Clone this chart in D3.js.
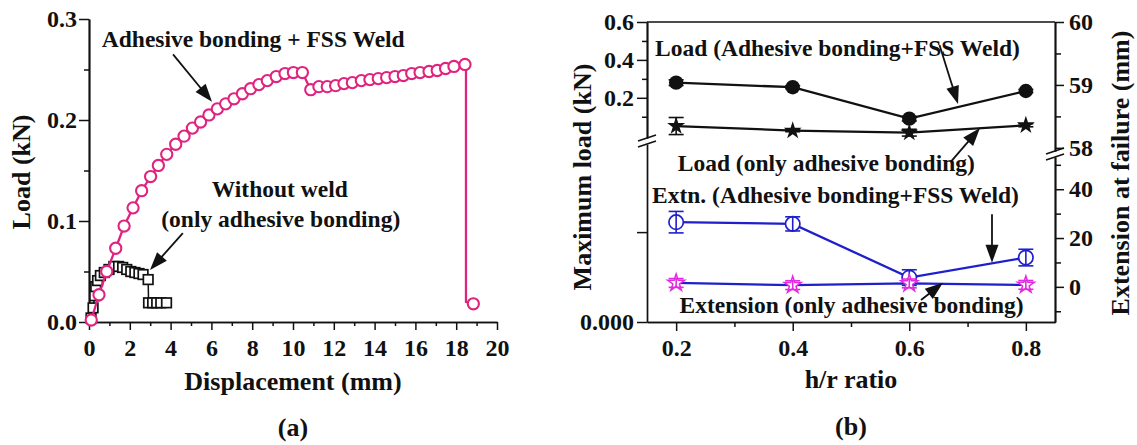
<!DOCTYPE html>
<html>
<head>
<meta charset="utf-8">
<script src="https://cdn.jsdelivr.net/npm/d3@7"></script>
<style>
  html, body { margin: 0; padding: 0; background: #fff; }
  svg { display: block; }
  text { font-family: "Liberation Serif", "Times New Roman", Times, serif; font-weight: bold; fill: #111; }
  .tick text { font-size: 24px; }
  .title { font-size: 26px; }
  .note { font-size: 23.5px; }
</style>
</head>
<body>
<svg id="fig" width="1137" height="445"></svg>
<script>
// ---------- Panel (a): load–displacement curves ----------
const weldDisp = [0.11, 0.49, 0.87, 1.31, 1.72, 2.16, 2.58, 3.02, 3.40, 3.81, 4.25, 4.66, 5.07, 5.47, 5.88,
  6.29, 6.70, 7.11, 7.52, 7.92, 8.33, 8.74, 9.18, 9.61, 10.02, 10.46, 10.87, 11.27, 11.68, 12.09, 12.50,
  12.91, 13.35, 13.77, 14.18, 14.59, 15.00, 15.41, 15.82, 16.23, 16.67, 17.07, 17.48, 17.89, 18.43, 18.84];
const weldLoad = [0.002, 0.027, 0.050, 0.073, 0.095, 0.113, 0.130, 0.144, 0.155, 0.166, 0.176, 0.184, 0.192, 0.198, 0.205,
  0.211, 0.216, 0.221, 0.226, 0.231, 0.235, 0.239, 0.243, 0.246, 0.247, 0.247, 0.230, 0.233, 0.233, 0.234, 0.236,
  0.237, 0.239, 0.240, 0.241, 0.242, 0.243, 0.244, 0.246, 0.247, 0.248, 0.249, 0.251, 0.253, 0.255, 0.018];
// failure drop of the welded joint (curve vertices between the last two markers)
const weldDropDisp = [18.48, 18.48];
const weldDropLoad = [0.255, 0.020];

const adhDisp = [0.10, 0.20, 0.28, 0.33, 0.42, 0.56, 0.75, 0.98, 1.22, 1.45, 1.65, 1.85, 2.05, 2.25, 2.45, 2.65,
  2.90, 2.92, 3.12, 3.32, 3.52, 3.80];
const adhLoad = [0.004, 0.014, 0.026, 0.035, 0.041, 0.046, 0.049, 0.052, 0.055, 0.055, 0.054, 0.052, 0.050, 0.049, 0.048, 0.047,
  0.042, 0.019, 0.019, 0.019, 0.019, 0.019];

const dispTicks = [0, 2, 4, 6, 8, 10, 12, 14, 16, 18, 20];
const dispMinor = [1, 3, 5, 7, 9, 11, 13, 15, 17, 19];
const loadTicks = [0, 0.1, 0.2, 0.3];
const loadMinor = [0.05, 0.15, 0.25];

// ---------- Panel (b): effect of h/r ratio ----------
const hr = [0.2, 0.4, 0.6, 0.8];
const loadWeld = [0.280, 0.256, 0.090, 0.236];
const loadWeldErr = [0.015, 0.008, 0.012, 0.008];
const loadAdh = [0.051, 0.027, 0.016, 0.055];
const loadAdhErr = [0.045, 0.006, 0.018, 0.008];
const extWeld = [26.5, 25.8, 3.8, 12.0];
const extWeldErr = [4.4, 2.9, 3.2, 3.4];
const extAdh = [1.6, 0.7, 1.4, 0.8];
const extAdhErr = [1.8, 1.8, 1.8, 1.8];

const hrTicks = [0.2, 0.4, 0.6, 0.8];
const hrMinor = [0.3, 0.5, 0.7];
const maxLoadTicks = [0.2, 0.4, 0.6];
const maxLoadMinor = [0.1, 0.3, 0.5];
const maxLoadLowTicks = [0, 0.001];
const extHighTicks = [58, 59, 60];
const extHighMinor = [58.5, 59.5];
const extLowTicks = [0, 20, 40];
const extLowMinor = [-10, 10, 30, 50];

const svg = d3.select("#fig");

const PINK = "#e0237f";
const BLUE = "#1f1fcc";
const MAGENTA = "#e22ae0";

function styleAxis(sel, w) {
  sel.selectAll(".domain").attr("stroke", "#111").attr("stroke-width", w || 1.7);
  sel.selectAll(".tick line").attr("stroke", "#111").attr("stroke-width", 1.5);
  sel.attr("font-family", null).attr("font-size", null);
  return sel;
}

function arrow(g, x1, y1, x2, y2, len, wid) {
  len = len || 18; wid = wid || 13;
  const dx = x2 - x1, dy = y2 - y1, d = Math.hypot(dx, dy);
  const ux = dx / d, uy = dy / d;
  const bx = x2 - ux * len, by = y2 - uy * len;
  g.append("line").attr("x1", x1).attr("y1", y1).attr("x2", bx + ux * 2).attr("y2", by + uy * 2)
    .attr("stroke", "#111").attr("stroke-width", 1.8);
  g.append("path")
    .attr("d", `M${x2},${y2}L${bx - uy * wid / 2},${by + ux * wid / 2}L${bx + uy * wid / 2},${by - ux * wid / 2}Z`)
    .attr("fill", "#111");
}

// ================= Panel (a) =================
const ga = svg.append("g");
const xa = d3.scaleLinear().domain([0, 20]).range([89, 497]);
const ya = d3.scaleLinear().domain([0, 0.3]).range([322, 19]);

// axes
styleAxis(ga.append("g").attr("transform", "translate(0,322)")
  .call(d3.axisBottom(xa).tickValues(dispMinor).tickSize(4).tickSizeOuter(0).tickFormat("")));
styleAxis(ga.append("g").attr("transform", "translate(0,322)")
  .call(d3.axisBottom(xa).tickValues(dispTicks).tickSize(8).tickSizeOuter(0).tickPadding(9).tickFormat(d3.format("d"))));
styleAxis(ga.append("g").attr("transform", "translate(89,0)")
  .call(d3.axisLeft(ya).tickValues(loadMinor).tickSize(5).tickSizeOuter(0).tickFormat("")));
styleAxis(ga.append("g").attr("transform", "translate(89,0)")
  .call(d3.axisLeft(ya).tickValues(loadTicks).tickSize(10).tickSizeOuter(0).tickPadding(2).tickFormat(d3.format(".1f"))));

// adhesive-only curve (squares)
const adhPts = adhDisp.map((d, i) => [d, adhLoad[i]]);
ga.append("path").datum(adhPts)
  .attr("d", d3.line().x(d => xa(d[0])).y(d => ya(d[1])))
  .attr("fill", "none").attr("stroke", "#111").attr("stroke-width", 1.5);
ga.append("g").selectAll("rect").data(adhPts).join("rect")
  .attr("x", d => xa(d[0]) - 4.8).attr("y", d => ya(d[1]) - 4.8)
  .attr("width", 9.6).attr("height", 9.6)
  .attr("fill", "#fff").attr("stroke", "#111").attr("stroke-width", 1.7);

// adhesive + FSS weld curve (circles)
const weldPts = weldDisp.map((d, i) => [d, weldLoad[i]]);
const weldLinePts = weldPts.slice(0, -1)
  .concat(weldDropDisp.map((d, i) => [d, weldDropLoad[i]]))
  .concat(weldPts.slice(-1));
ga.append("path").datum(weldLinePts)
  .attr("d", d3.line().x(d => xa(d[0])).y(d => ya(d[1])))
  .attr("fill", "none").attr("stroke", PINK).attr("stroke-width", 2.3);
ga.append("g").selectAll("circle").data(weldPts).join("circle")
  .attr("cx", d => xa(d[0])).attr("cy", d => ya(d[1])).attr("r", 5.6)
  .attr("fill", "#fff").attr("stroke", PINK).attr("stroke-width", 2.1);

// axis titles and notes
ga.append("text").attr("class", "title").attr("x", 293).attr("y", 390).attr("text-anchor", "middle").text("Displacement (mm)");
ga.append("text").attr("class", "title").attr("transform", "translate(30,172) rotate(-90)").attr("text-anchor", "middle").text("Load (kN)");
ga.append("text").attr("class", "title").attr("x", 293).attr("y", 436).attr("text-anchor", "middle").text("(a)");

ga.append("text").attr("class", "note").attr("x", xa(8.05)).attr("y", ya(0.272)).attr("text-anchor", "middle").text("Adhesive bonding + FSS Weld");
ga.append("text").attr("class", "note").attr("x", xa(9.35)).attr("y", ya(0.124)).attr("text-anchor", "middle").text("Without weld");
ga.append("text").attr("class", "note").attr("x", xa(9.4)).attr("y", ya(0.094)).attr("text-anchor", "middle").text("(only adhesive bonding)");
arrow(ga, xa(4.12), ya(0.265), xa(6.03), ya(0.218));
arrow(ga, xa(4.6), ya(0.088), xa(2.99), ya(0.0515));

// ================= Panel (b) =================
const gb = svg.append("g");
const xb = d3.scaleLinear().domain([0.15, 0.85]).range([647, 1055]);
const loadUpper = d3.scaleLinear().domain([-0.0121, 0.6]).range([138, 22]);
const loadLower = d3.scaleLinear().domain([0, 0.00198]).range([322, 144]);
const extUpper = d3.scaleLinear().domain([57.95, 60]).range([151, 22]);
const extLower = d3.scaleLinear().domain([-14.4, 53.2]).range([322, 157]);

// frame top line
gb.append("line").attr("x1", 647).attr("x2", 1055).attr("y1", 22).attr("y2", 22)
  .attr("stroke", "#111").attr("stroke-width", 1.7);

// bottom axis
styleAxis(gb.append("g").attr("transform", "translate(0,322)")
  .call(d3.axisBottom(xb).tickValues(hrMinor).tickSize(5).tickSizeOuter(0).tickFormat("")));
styleAxis(gb.append("g").attr("transform", "translate(0,322)")
  .call(d3.axisBottom(xb).tickValues(hrTicks).tickSize(9).tickSizeOuter(0).tickPadding(8).tickFormat(d3.format(".1f"))));

// left axis, broken
styleAxis(gb.append("g").attr("transform", "translate(647,0)")
  .call(d3.axisLeft(loadUpper).tickValues(maxLoadMinor).tickSize(5).tickSizeOuter(0).tickFormat("")));
styleAxis(gb.append("g").attr("transform", "translate(647,0)")
  .call(d3.axisLeft(loadUpper).tickValues(maxLoadTicks).tickSize(10).tickSizeOuter(0).tickPadding(3).tickFormat(d3.format(".1f"))));
styleAxis(gb.append("g").attr("transform", "translate(647,0)")
  .call(d3.axisLeft(loadLower).tickValues(maxLoadLowTicks).tickSize(10).tickSizeOuter(0).tickPadding(3)
    .tickFormat(d => d === 0 ? "0.000" : "")));

// right axis, broken
styleAxis(gb.append("g").attr("transform", "translate(1055,0)")
  .call(d3.axisRight(extUpper).tickValues(extHighMinor).tickSize(6).tickSizeOuter(0).tickFormat("")));
styleAxis(gb.append("g").attr("transform", "translate(1055,0)")
  .call(d3.axisRight(extUpper).tickValues(extHighTicks).tickSize(9).tickSizeOuter(0).tickPadding(5).tickFormat(d3.format("d"))));
styleAxis(gb.append("g").attr("transform", "translate(1055,0)")
  .call(d3.axisRight(extLower).tickValues(extLowMinor).tickSize(6).tickSizeOuter(0).tickFormat("")));
styleAxis(gb.append("g").attr("transform", "translate(1055,0)")
  .call(d3.axisRight(extLower).tickValues(extLowTicks).tickSize(9).tickSizeOuter(0).tickPadding(5).tickFormat(d3.format("d"))));

// break marks
function breakMark(x, yTop, yBot) {
  [yTop, yBot].forEach(y => {
    gb.append("line").attr("x1", x - 9).attr("y1", y + 3).attr("x2", x + 9).attr("y2", y - 3)
      .attr("stroke", "#111").attr("stroke-width", 1.5);
  });
}
breakMark(647, loadUpper.range()[0], loadLower.range()[1]);
breakMark(1055, extUpper.range()[0], extLower.range()[1]);

function errorBars(g, vals, errs, yScale, color) {
  const eg = g.append("g").attr("stroke", color).attr("stroke-width", 1.6);
  hr.forEach((h, i) => {
    const x = xb(h), y1 = yScale(vals[i] - errs[i]), y2 = yScale(vals[i] + errs[i]);
    eg.append("line").attr("x1", x).attr("x2", x).attr("y1", y1).attr("y2", y2);
    eg.append("line").attr("x1", x - 7.5).attr("x2", x + 7.5).attr("y1", y1).attr("y2", y1);
    eg.append("line").attr("x1", x - 7.5).attr("x2", x + 7.5).attr("y1", y2).attr("y2", y2);
  });
}
function seriesLine(g, vals, yScale, color) {
  g.append("path").datum(hr.map((h, i) => [h, vals[i]]))
    .attr("d", d3.line().x(d => xb(d[0])).y(d => yScale(d[1])))
    .attr("fill", "none").attr("stroke", color).attr("stroke-width", 2.3);
}

// load, adhesive + weld (filled circles)
seriesLine(gb, loadWeld, loadUpper, "#111");
errorBars(gb, loadWeld, loadWeldErr, loadUpper, "#111");
gb.append("g").selectAll("circle").data(hr).join("circle")
  .attr("cx", d => xb(d)).attr("cy", (d, i) => loadUpper(loadWeld[i])).attr("r", 7.2).attr("fill", "#111");

// load, adhesive only (filled stars)
seriesLine(gb, loadAdh, loadUpper, "#111");
errorBars(gb, loadAdh, loadAdhErr, loadUpper, "#111");
const star = d3.symbol().type(d3.symbolStar);
gb.append("g").selectAll("path").data(hr).join("path")
  .attr("transform", (d, i) => `translate(${xb(d)},${loadUpper(loadAdh[i])})`)
  .attr("d", star.size(100)()).attr("fill", "#111");

// extension, adhesive + weld (open blue circles)
seriesLine(gb, extWeld, extLower, BLUE);
gb.append("g").selectAll("circle").data(hr).join("circle")
  .attr("cx", d => xb(d)).attr("cy", (d, i) => extLower(extWeld[i])).attr("r", 7.2)
  .attr("fill", "#fff").attr("stroke", BLUE).attr("stroke-width", 1.7);
errorBars(gb, extWeld, extWeldErr, extLower, BLUE);

// extension, adhesive only (open magenta stars on a blue line)
seriesLine(gb, extAdh, extLower, BLUE);
gb.append("g").selectAll("path").data(hr).join("path")
  .attr("transform", (d, i) => `translate(${xb(d)},${extLower(extAdh[i])})`)
  .attr("d", star.size(90)()).attr("fill", "#fff").attr("stroke", MAGENTA).attr("stroke-width", 1.5);
errorBars(gb, extAdh, extAdhErr, extLower, MAGENTA);

// titles
gb.append("text").attr("class", "title").attr("x", 851).attr("y", 388).attr("text-anchor", "middle").text("h/r ratio");
gb.append("text").attr("class", "title").attr("x", 851).attr("y", 435).attr("text-anchor", "middle").text("(b)");
gb.append("text").attr("class", "title").attr("transform", "translate(591,177) rotate(-90)").attr("text-anchor", "middle").text("Maximum load (kN)");
gb.append("text").attr("class", "title").attr("transform", "translate(1129,173) rotate(-90)").attr("text-anchor", "middle").text("Extension at failure (mm)");

// series notes and arrows
gb.append("text").attr("class", "note").attr("x", xb(0.4768)).attr("y", loadUpper(0.42)).attr("text-anchor", "middle").text("Load (Adhesive bonding+FSS Weld)");
gb.append("text").attr("class", "note").attr("x", xb(0.4576)).attr("y", extLower(47.4)).attr("text-anchor", "middle").text("Load (only adhesive bonding)");
gb.append("text").attr("class", "note").attr("x", xb(0.4734)).attr("y", extLower(34.2)).attr("text-anchor", "middle").text("Extn. (Adhesive bonding+FSS Weld)");
gb.append("text").attr("class", "note").attr("x", xb(0.5009)).attr("y", extLower(-10.7)).attr("text-anchor", "middle").text("Extension (only adhesive bonding)");

arrow(gb, xb(0.6518), loadUpper(0.4786), xb(0.6836), loadUpper(0.1673));
arrow(gb, xb(0.6707), extLower(51.1), xb(0.7213), loadUpper(0.0406));
arrow(gb, xb(0.7419), extLower(29.7), xb(0.7419), extLower(9.9));
arrow(gb, xb(0.6201), extLower(-5.4), xb(0.6578), extLower(1.65));
</script>
</body>
</html>
